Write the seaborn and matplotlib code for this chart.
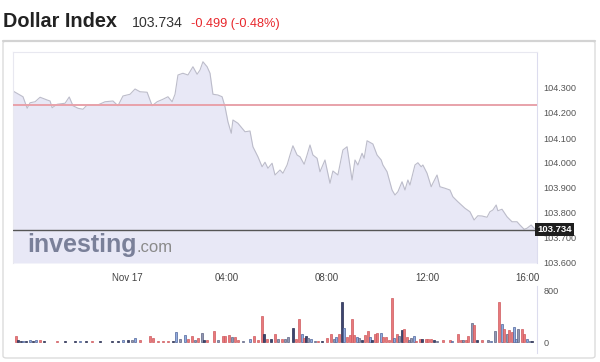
import matplotlib
matplotlib.use("Agg")
import matplotlib.pyplot as plt
from matplotlib.patches import FancyBboxPatch
from matplotlib.lines import Line2D
import seaborn as sns

W, H = 600, 362

# ── price (minutes from Nov 17 00:00, index level) ───────────────────────────
price_min = [-274, -250, -240, -233, -221, -209, -192, -185, -180, -168, -149, -139,
             -130, -118, -106, -96, -72, -53, -34, -22, -10, 7, 19, 31, 48, 60, 72,
             86, 98, 108, 115, 122, 134, 146, 158, 168, 175, 182, 192, 199, 206,
             218, 228, 235, 242, 250, 254, 266, 283, 295, 302, 314, 324, 331, 338,
             348, 355, 367, 374, 384, 391, 398, 408, 415, 425, 432, 439, 446, 456,
             463, 475, 487, 494, 506, 518, 528, 540, 547, 554, 564, 569, 576, 590,
             600, 610, 614, 624, 636, 643, 650, 660, 667, 674, 679, 691, 698, 706,
             710, 720, 730, 734, 744, 751, 763, 775, 782, 794, 811, 823, 833, 842,
             852, 864, 871, 878, 886, 890, 900, 912, 924, 936, 943, 953, 960, 970,
             977, 984]
price_val = [104.288, 104.265, 104.219, 104.241, 104.245, 104.263, 104.252, 104.248,
             104.221, 104.235, 104.239, 104.264, 104.229, 104.219, 104.215, 104.232,
             104.231, 104.245, 104.248, 104.229, 104.268, 104.275, 104.296, 104.285,
             104.283, 104.229, 104.245, 104.255, 104.265, 104.245, 104.275, 104.352,
             104.359, 104.352, 104.385, 104.355, 104.372, 104.405, 104.385, 104.359,
             104.275, 104.272, 104.265, 104.225, 104.165, 104.119, 104.172, 104.159,
             104.125, 104.128, 104.065, 104.025, 103.985, 104.003, 103.979, 103.999,
             103.952, 103.972, 103.959, 103.992, 104.032, 104.069, 104.032, 104.025,
             103.995, 104.032, 104.072, 104.032, 104.019, 103.965, 104.012, 103.919,
             103.968, 103.952, 104.052, 104.065, 103.932, 104.012, 103.992, 104.039,
             104.019, 104.089, 104.076, 104.032, 104.012, 103.992, 103.965, 103.892,
             103.872, 103.885, 103.925, 103.892, 103.932, 103.912, 103.992, 104.001,
             103.985, 103.992, 103.959, 103.905, 103.919, 103.952, 103.905, 103.899,
             103.892, 103.865, 103.845, 103.819, 103.805, 103.772, 103.789, 103.788,
             103.783, 103.805, 103.812, 103.832, 103.809, 103.815, 103.785, 103.765,
             103.765, 103.752, 103.735, 103.739, 103.752, 103.739, 103.734]
prev_close = 104.233
last_price = 103.734
change = -0.499
change_pct = -0.48

# ── volume bars (r=down, b=up, g=flat, d=dark) ──────────────────────────────
vol_min = [-266, -262, -254, -250, -242, -233, -226, -218, -209, -199, -168, -149,
           -125, -113, -98, -84, -65, -36, -22, -10, 2, 12, 19, 31, 55, 62, 74, 86,
           98, 110, 118, 127, 139, 146, 156, 163, 170, 180, 185, 192, 209, 218, 230,
           235, 245, 252, 259, 266, 278, 295, 305, 314, 324, 329, 336, 346, 355, 362,
           372, 379, 386, 398, 406, 413, 420, 425, 430, 434, 442, 451, 458, 468, 480,
           490, 497, 502, 509, 516, 521, 528, 535, 540, 545, 552, 557, 564, 571, 578,
           583, 588, 595, 600, 610, 614, 622, 629, 636, 641, 648, 653, 660, 665, 672,
           677, 682, 689, 694, 703, 708, 718, 722, 730, 737, 744, 758, 775, 780, 794,
           802, 806, 814, 818, 828, 833, 840, 852, 866, 874, 883, 893, 900, 905, 912,
           917, 924, 929, 934, 938, 948, 953, 960, 967, 972]
vol_val = [100, 25, 20, 20, 20, 25, 20, 25, 25, 20, 15, 15,
           15, 15, 15, 15, 15, 15, 20, 25, 25, 30, 60, 25, 90, 60, 20, 20,
           20, 20, 150, 45, 108, 50, 95, 30, 60, 135, 30, 30, 170, 30, 92,
           92, 115, 75, 75, 30, 15, 45, 85, 30, 400, 123, 45, 45, 130, 45,
           45, 45, 75, 215, 45, 355, 120, 60, 90, 60, 45, 15, 15, 15, 60,
           125, 45, 75, 125, 615, 215, 75, 105, 355, 105, 80, 60, 30, 105, 170,
           75, 30, 125, 140, 140, 75, 75, 30, 670, 60, 120, 90, 185, 200, 75,
           30, 60, 90, 15, 45, 45, 45, 45, 45, 30, 15, 30, 30, 15, 125,
           30, 30, 30, 90, 290, 260, 30, 30, 30, 15, 170, 615, 275, 200, 125,
           185, 155, 230, 45, 200, 200, 125, 45, 15, 15]
vol_kind = list("rddbdbdbrdrd"
                "dbdrdddbdgbrrrrr"
                "rdbgbrrgrgdrrgr"
                "rrgrrgbrrrdrdrg"
                "rggdrrbrdgbgrdr"
                "rgbrdbrrrrbgdrr"
                "bdrrbrrrrbrgdrr"
                "ggbrrdrrrdgrrbr"
                "rgrrgrdrgbgrbrg"
                "rrbbgrrbgd")

time_ticks = [0, 240, 480, 720, 960]
time_labels = ["Nov 17", "04:00", "08:00", "12:00", "16:00"]
price_ticks = [103.6, 103.7, 103.8, 103.9, 104.0, 104.1, 104.2, 104.3]
vol_ticks = [0, 800]

KIND_FACE = {"r": "#e8797c", "b": "#93acdf", "g": "#9297b3", "d": "#3d4570"}
KIND_EDGE = {"r": "#cf5a5e", "b": "#4f649a", "g": "#5d6382", "d": "#262c4f"}

sns.set_style("white")
plt.rcParams["font.family"] = ["Liberation Sans", "DejaVu Sans"]


def box(x0, y0, x1, y1):
    """pixel box (top-left origin) -> figure fraction rect"""
    return [x0 / W, 1 - y1 / H, (x1 - x0) / W, (y1 - y0) / H]


fig = plt.figure(figsize=(W / 100, H / 100), dpi=100)
fig.patch.set_facecolor("white")

# outer card
fig.add_artist(FancyBboxPatch((3 / W, 1 - 358 / H), 592 / W, 317 / H,
                              boxstyle="round,pad=0,rounding_size=0.006",
                              transform=fig.transFigure, facecolor="none",
                              edgecolor="#dcdcdc", lw=1))
fig.add_artist(Line2D([3 / W, 595 / W], [1 - 41 / H] * 2, transform=fig.transFigure,
                      color="#d3d3d3", lw=1.6))

# header
fig.text(3 / W, 1 - 27 / H, "Dollar Index", fontsize=14.3, fontweight="bold",
         color="#222222", va="baseline")
fig.text(132 / W, 1 - 27 / H, f"{last_price:.3f}", fontsize=10.2, color="#333333",
         va="baseline")
fig.text(191 / W, 1 - 27 / H, f"{change:.3f} ({change_pct:.2f}%)", fontsize=9.2,
         color="#e8262b", va="baseline")

# ── price panel ─────────────────────────────────────────────────────────────
ax = fig.add_axes(box(13, 52, 537, 263))
xmin, xmax = -274, 984
ax.set_xlim(xmin, xmax)
ax.set_ylim(103.6, 103.6 + 211 / 250)
ax.fill_between(price_min, price_val, 103.6, color="#e8e8f6", lw=0, zorder=1)
sns.lineplot(x=price_min, y=price_val, ax=ax, color="#bcbcca", lw=0.8, zorder=2)
ax.axhline(prev_close, color="#e8a2aa", lw=1.4, zorder=3)
ax.axhline(last_price, color="#555555", lw=1.0, zorder=3)

# watermark, placed in axes fraction
ax.text(14 / 524, 11 / 211, "investing", fontsize=18, fontweight="bold",
        color="#7a8099", va="baseline", transform=ax.transAxes, zorder=4)
ax.text(124 / 524, 11 / 211, ".com", fontsize=12, color="#8a8a8a",
        va="baseline", transform=ax.transAxes, zorder=4)

ax.yaxis.tick_right()
ax.set_yticks(price_ticks, [f"{v:.3f}" for v in price_ticks])
ax.tick_params(axis="y", length=0, pad=4.5, labelsize=6.6, labelcolor="#555555")
ax.set_xticks([])
for s in ["top", "left"]:
    ax.spines[s].set_color("#e8e8f0")
    ax.spines[s].set_linewidth(0.8)
ax.spines["right"].set_color("#dcdcee")
ax.spines["right"].set_linewidth(0.8)
ax.spines["bottom"].set_visible(False)
ax.text(1.0, last_price, f"{last_price:.3f}", transform=ax.get_yaxis_transform(),
        fontsize=6.8, fontweight="bold", color="white", ha="left", va="center",
        zorder=6, bbox=dict(boxstyle="square,pad=0.25", fc="#1e1e1e", ec="none"))

# ── volume panel ────────────────────────────────────────────────────────────
vax = fig.add_axes(box(13, 286, 537, 353))
vax.set_xlim(xmin, xmax)
per_px = 800 / 52
vax.set_ylim(-11 * per_px, 800 + 4 * per_px)
vax.bar(vol_min, vol_val, width=4.5,
        color=[KIND_FACE[k] for k in vol_kind],
        edgecolor=[KIND_EDGE[k] for k in vol_kind], linewidth=0.5, zorder=2)
vax.xaxis.tick_top()
vax.set_xticks(time_ticks, time_labels)
vax.tick_params(axis="x", length=0, pad=2, labelsize=7, labelcolor="#444444")
vax.yaxis.tick_right()
vax.set_yticks(vol_ticks, [str(v) for v in vol_ticks])
vax.tick_params(axis="y", length=0, pad=4.5, labelsize=6.6, labelcolor="#555555")
for s in ["top", "left", "bottom"]:
    vax.spines[s].set_visible(False)
vax.spines["right"].set_color("#dcdcee")
vax.spines["right"].set_linewidth(0.8)

fig.savefig("out.png", dpi=100)
